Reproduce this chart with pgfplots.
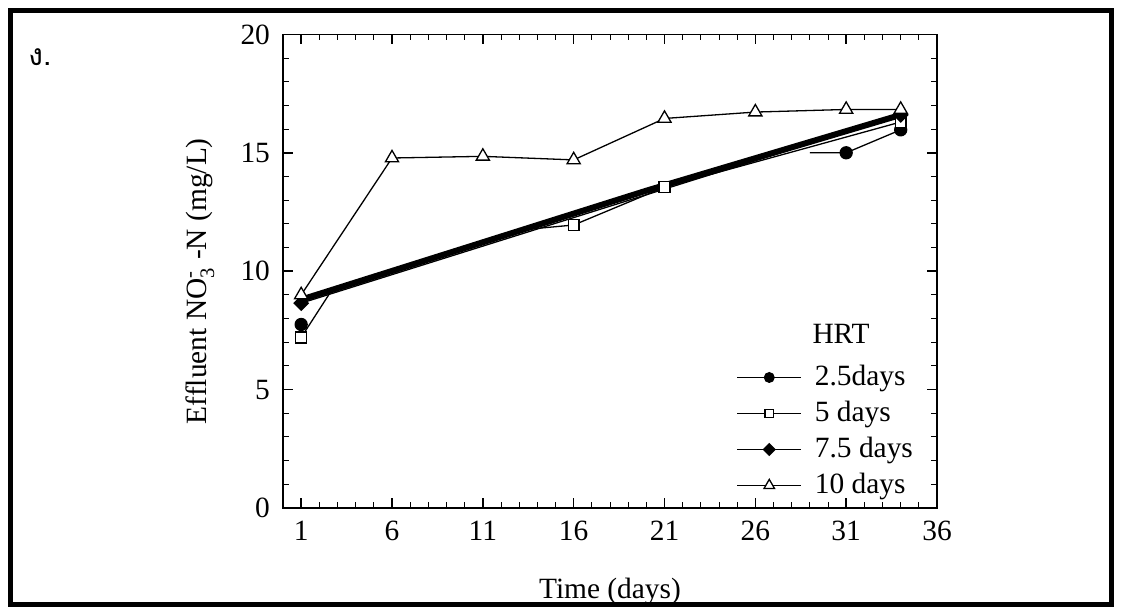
\documentclass[border=0pt]{standalone}
\usepackage{fontspec}
\setmainfont{Liberation Serif}
\newfontfamily\thaifont[Script=Thai]{Loma}
\usepackage{amsmath}
\usepackage{pgfplots}
\pgfplotsset{compat=1.18}
\begin{document}
\begin{tikzpicture}
\useasboundingbox (0,0) rectangle (561pt,307.5pt);
\fill[white] (0,0) rectangle (561pt,307.5pt);
\draw[line width=2.25pt] (5.25pt,5.25pt) rectangle (555.75pt,302.25pt);
\node[anchor=west, inner sep=0pt, font=\thaifont\fontsize{15}{17}\selectfont] at (14pt,279pt) {ง.};
\begin{axis}[
 at={(141.5pt,53.5pt)}, anchor=south west, scale only axis,
 width=327pt, height=236.8pt,
 xmin=0, xmax=36, ymin=0, ymax=20,
 xtick={1,6,...,36}, ytick={0,5,...,20},
 minor x tick num=4, minor y tick num=4,
 tick pos=both, tick align=inside,
 major tick length=5pt, minor tick length=2.8pt,
 major tick style={line width=0.8pt, black}, minor tick style={line width=0.5pt, black},
 axis line style={line width=0.65pt},
 /pgf/number format/assume math mode=true,
 tick label style={font=\fontsize{14.7}{17}\selectfont},
 xticklabel style={yshift=-3pt},
 yticklabel style={xshift=-3pt},
 xlabel={Time (days)}, ylabel={Effluent NO$_{\text{3}}^{\text{-}}$ -N (mg/L)},
 label style={font=\fontsize{14.7}{17}\selectfont},
 xlabel style={at={(axis description cs:0.5,-0.177)}, anchor=center},
 ylabel style={at={(axis description cs:-0.127,0.479)}, anchor=center},
 legend cell align=left,
 legend style={draw=none, fill=none, at={(0.693,0.306)}, anchor=north west, inner sep=0pt, row sep=4pt, column sep=6.5pt, font=\fontsize{14.7}{17}\selectfont, nodes={inner sep=0pt, text height=11pt, text depth=3pt}},
 legend image code/.code={\draw[#1, mark indices={2}, every mark/.append style={scale=0.8}] plot coordinates {(0pt,0pt) (16pt,0pt) (32pt,0pt)};},
 every axis plot/.append style={black, line width=0.65pt},
]
% 2.5 days
\addplot[mark=*, mark size=3pt, mark indices={2,3}] coordinates {(29,15.0) (31,15.0) (34,15.97)};
\addlegendentry{2.5days}
\addplot[only marks, mark=*, mark size=3pt, forget plot] coordinates {(1,7.75)};
% 5 days
\addplot[mark=square*, mark size=2.7pt, mark indices={1,4,5,6}, mark options={fill=white}] coordinates {(1,7.2) (2.6,9.1) (13.6,11.78) (16,11.95) (21,13.55) (34,16.3)};
\addlegendentry{5 days}
% 7.5 days (thick)
\addplot[line width=3pt, forget plot] coordinates {(1,8.8) (20,13.4) (34,16.6)};
\addplot[mark=square*, mark size=2.5pt, mark options={rotate=45}] coordinates {(1,8.65) (34,16.6)};
\addlegendentry{7.5 days}
% 10 days
\addplot[mark=triangle*, mark size=3.8pt, mark options={fill=white}] coordinates {(1,9.0) (6,14.78) (11,14.85) (16,14.7) (21,16.45) (26,16.72) (31,16.83) (34,16.83)};
\addlegendentry{10 days}
\node[anchor=base west, inner sep=0pt, font=\fontsize{14.7}{17}\selectfont] at (rel axis cs:0.809,0.348) {HRT};
\end{axis}
\end{tikzpicture}
\end{document}
